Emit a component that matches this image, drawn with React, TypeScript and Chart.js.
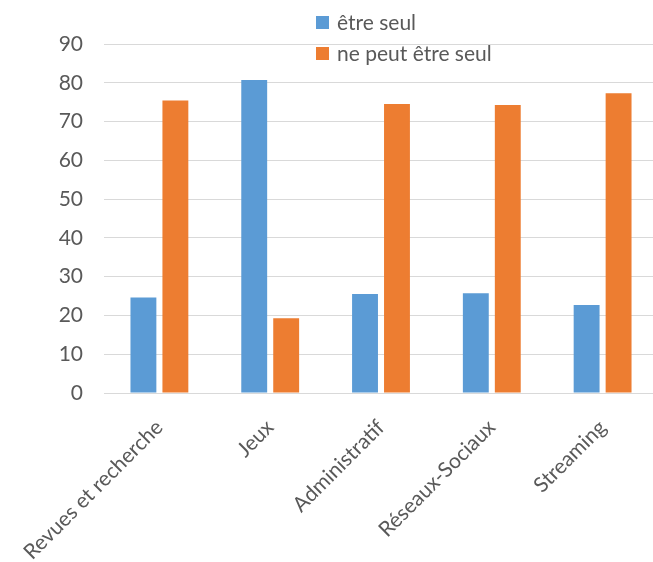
import React, { useEffect, useRef } from "react";
import { Chart, registerables } from "chart.js";

Chart.register(...registerables);

const categories = ["Revues et recherche", "Jeux", "Administratif", "Réseaux-Sociaux", "Streaming"];
const seriesNames = ["être seul", "ne peut être seul"];
const etreSeul = [24.6, 80.7, 25.5, 25.7, 22.7];
const nePeutEtreSeul = [75.4, 19.3, 74.5, 74.3, 77.3];
const seriesColors = ["#5B9BD5", "#ED7D31"];

const FONT = "Lato, 'Open Sans', sans-serif";
const TEXT = "#595959";
const FS = 21;

export default function App() {
  const ref = useRef<HTMLCanvasElement>(null);
  useEffect(() => {
    const ctx = ref.current!;
    const chart = new Chart(ctx, {
      type: "bar",
      data: {
        labels: categories,
        datasets: [
          { label: seriesNames[0], data: etreSeul, backgroundColor: seriesColors[0], categoryPercentage: 0.577, barPercentage: 0.81 },
          { label: seriesNames[1], data: nePeutEtreSeul, backgroundColor: seriesColors[1], categoryPercentage: 0.577, barPercentage: 0.81 },
        ],
      },
      options: {
        animation: false,
        responsive: false,
        maintainAspectRatio: false,
        layout: { padding: { top: 44, left: 0, right: 0, bottom: 0 } },
        plugins: { legend: { display: false }, tooltip: { enabled: false } },
        scales: {
          x: {
            grid: { display: false },
            border: { color: "#D9D9D9", width: 1 },
            ticks: {
              color: TEXT,
              font: { family: FONT, size: FS },
              maxRotation: 45,
              minRotation: 45,
              autoSkip: false,
              padding: 14,
            },
            afterFit: (s: any) => { s.height = 169; },
          },
          y: {
            min: 0,
            max: 90,
            grid: { color: "#D9D9D9", lineWidth: 1, drawTicks: false },
            border: { display: false },
            ticks: {
              stepSize: 10,
              color: TEXT,
              font: { family: FONT, size: FS },
              padding: 21,
            },
            afterFit: (s: any) => { s.width = 104; },
          },
        },
      },
    });
    return () => chart.destroy();
  }, []);

  const legendItem = (i: number, top: number) => (
    <div
      style={{
        position: "absolute",
        left: 316,
        top,
        height: 26,
        display: "flex",
        alignItems: "center",
        fontFamily: FONT,
        fontSize: FS,
        lineHeight: "26px",
        color: TEXT,
        whiteSpace: "nowrap",
      }}
    >
      <span style={{ display: "inline-block", width: 13, height: 13, background: seriesColors[i], marginRight: 8 }} />
      <span>{seriesNames[i]}</span>
    </div>
  );

  return (
    <div style={{ position: "fixed", left: 0, top: 0, width: 658, height: 562, background: "#fff" }}>
      <canvas ref={ref} width={658} height={562} style={{ display: "block" }} />
      {legendItem(0, 9)}
      {legendItem(1, 40)}
    </div>
  );
}
